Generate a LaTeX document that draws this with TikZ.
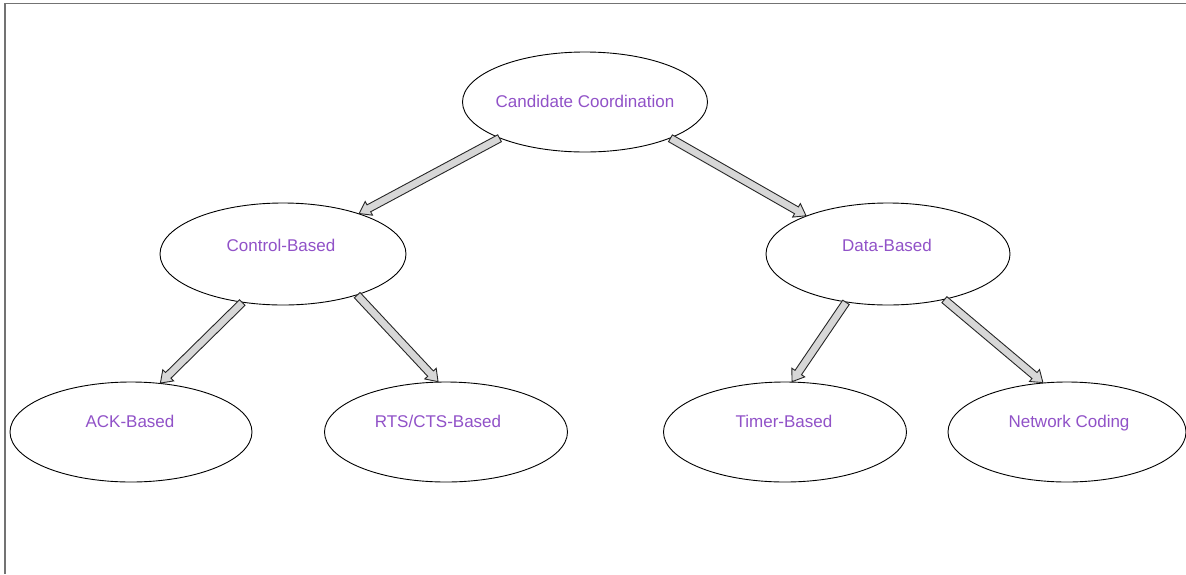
\documentclass[tikz,border=0pt]{standalone}
\usepackage{fontspec}
\setmainfont{Liberation Sans}
\usetikzlibrary{shapes.geometric,calc}
\definecolor{lblpurple}{RGB}{145,82,200}
\definecolor{arrowfill}{RGB}{215,215,215}
\tikzset{
  ell/.style={draw=black, line width=0.9pt, ellipse, inner sep=0pt, fill=white},
  lbl/.style={text=lblpurple, font=\fontsize{17}{20}\selectfont, inner sep=0pt, anchor=base},
  fatarrowstyle/.style={draw=black!85, fill=arrowfill, line width=0.9pt, line join=miter},
  frame/.style={draw=black!55, line width=1.6pt}
}
\newcommand{\fatarrow}[2]{%
  \path (#1) coordinate (fa-s) (#2) coordinate (fa-e);
  \path ($(fa-e)!11pt!(fa-s)$) coordinate (fa-h);
  \draw[fatarrowstyle] ($(fa-s)!3.9pt!90:(fa-e)$) -- ($(fa-h)!3.9pt!90:(fa-e)$) -- ($(fa-h)!7.8pt!90:(fa-e)$) -- (fa-e) -- ($(fa-h)!7.8pt!-90:(fa-e)$) -- ($(fa-h)!3.9pt!-90:(fa-e)$) -- ($(fa-s)!3.9pt!-90:(fa-e)$) -- cycle;}
\begin{document}
\begin{tikzpicture}[x=1pt,y=-1pt]
\useasboundingbox (0,0) rectangle (1186,574);
\fill[white] (0,0) rectangle (1186,574);
\draw[frame] (5,574) -- (5,3.5) -- (1186,3.5);
% ellipses
\node[ell, minimum width=245pt, minimum height=100pt] (cc) at (585,102) {};
\node[ell, minimum width=246pt, minimum height=102pt] (ctrl) at (283,254) {};
\node[ell, minimum width=244pt, minimum height=102pt] (data) at (888,254) {};
\node[ell, minimum width=242pt, minimum height=100pt] (ack) at (131,432) {};
\node[ell, minimum width=243pt, minimum height=100pt] (rts) at (446,432) {};
\node[ell, minimum width=243pt, minimum height=100pt] (timer) at (785,432) {};
\node[ell, minimum width=238pt, minimum height=100pt] (nc) at (1067,432) {};
% labels
\node[lbl] (cct) at (585,107) {Candidate Coordination};
\node[lbl] (ctrlt) at (281,251) {Control-Based};
\node[lbl] (datat) at (887,251) {Data-Based};
\node[lbl] (ackt) at (130,427) {ACK-Based};
\node[lbl] (rtst) at (438,427) {RTS/CTS-Based};
\node[lbl] (timert) at (784,427) {Timer-Based};
\node[lbl] (nct) at (1069,427) {Network Coding};
% arrows
\fatarrow{cc.203}{ctrl.28.4}
\fatarrow{cc.-23.5}{data.155.7}
\fatarrow{ctrl.-130.5}{ack.59.4}
\fatarrow{ctrl.-29.7}{rts.99}
\fatarrow{data.-131.2}{timer.82}
\fatarrow{data.-39.3}{nc.116}
\end{tikzpicture}
\end{document}
